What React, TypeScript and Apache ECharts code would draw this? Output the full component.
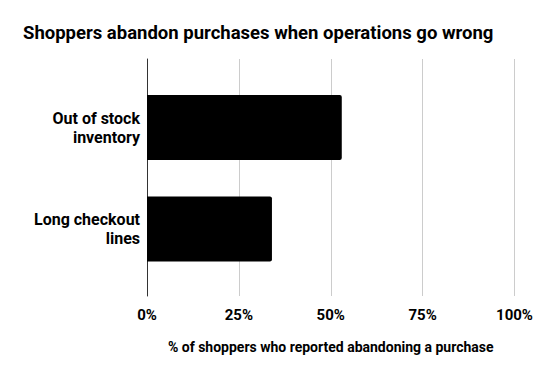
import React, { useEffect, useRef } from "react";
import * as echarts from "echarts";

const categories = ["Long checkout lines", "Out of stock inventory"];
const categoryLabels = ["Long checkout\nlines", "Out of stock\ninventory"];
const values = [34, 53];
const xTicks = [0, 25, 50, 75, 100];

const titleText = "Shoppers abandon purchases when operations go wrong";
const xAxisName = "% of shoppers who reported abandoning a purchase";

export default function App() {
  const ref = useRef<HTMLDivElement>(null);
  useEffect(() => {
    if (!ref.current) return;
    const chart = echarts.init(ref.current, undefined, { renderer: "svg" });
    const font = "Roboto";
    chart.setOption({
      animation: false,
      backgroundColor: "#ffffff",
      textStyle: { fontFamily: font },
      title: {
        text: titleText,
        left: 18,
        top: 18,
        textStyle: { fontFamily: font, fontSize: 18.5, fontWeight: "bold", color: "#000" },
      },
      grid: [
        { left: 147, right: 42.5, top: 59, bottom: 75, containLabel: false },
        { left: 147, right: 42.5, top: 76.75, bottom: 91.25, containLabel: false },
      ],
      xAxis: [
        {
          type: "value",
          gridIndex: 0,
          min: xTicks[0],
          max: xTicks[xTicks.length - 1],
          interval: 25,
          axisLine: { show: false },
          axisTick: { show: false },
          splitLine: { show: true, lineStyle: { color: "#cccccc", width: 1 } },
          axisLabel: {
            formatter: "{value}%",
            fontFamily: font,
            fontSize: 15,
            fontWeight: "bold",
            color: "#000",
            margin: 11,
          },
          name: xAxisName,
          nameLocation: "middle",
          nameGap: 44,
          nameTextStyle: { fontFamily: font, fontSize: 14, fontWeight: "bold", color: "#000" },
        },
        {
          type: "value",
          gridIndex: 1,
          min: xTicks[0],
          max: xTicks[xTicks.length - 1],
          show: false,
        },
      ],
      yAxis: [
        {
          type: "value",
          gridIndex: 0,
          min: 0,
          max: 1,
          axisLine: { show: true, lineStyle: { color: "#333333", width: 1 } },
          axisTick: { show: false },
          axisLabel: { show: false },
          splitLine: { show: false },
        },
        {
          type: "category",
          gridIndex: 1,
          data: categories,
          axisLine: { show: false },
          axisTick: { show: false },
          splitLine: { show: false },
          axisLabel: {
            formatter: (_v: string, i: number) => categoryLabels[i],
            fontFamily: font,
            fontSize: 16,
            fontWeight: "bold",
            color: "#000",
            lineHeight: 19,
            align: "right",
            margin: 7,
          },
        },
      ],
      series: [
        {
          type: "bar",
          xAxisIndex: 1,
          yAxisIndex: 1,
          data: values,
          barWidth: 65,
          itemStyle: { color: "#000000", borderRadius: [0, 2, 2, 0] },
        },
      ],
    });
    return () => chart.dispose();
  }, []);
  return <div ref={ref} style={{ width: 557, height: 371, position: "absolute", left: 0, top: 0 }} />;
}
